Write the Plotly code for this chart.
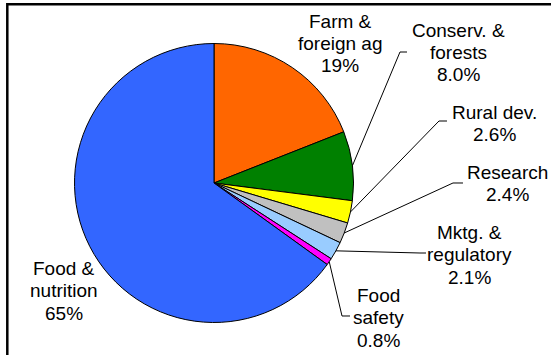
import math
import plotly.graph_objects as go

# Shares of spending by mission area (percent), clockwise from 12 o'clock
categories = ["Farm &\nforeign ag", "Conserv. &\nforests", "Rural dev.", "Research",
              "Mktg. &\nregulatory", "Food\nsafety", "Food &\nnutrition"]
shares = [19, 8.0, 2.6, 2.4, 2.1, 0.8, 65]
colors = ["#FF6600", "#008000", "#FFFF00", "#C0C0C0", "#99CCFF", "#FF00FF", "#3366FF"]

W, H = 551, 355
CX, CY, R = 214, 183, 139.5          # pie centre and radius in pixels
FONT = "Liberation Sans, Arial, sans-serif"
FS = 19
LINE_H = 22.5

# label block centre x and first-line centre y (pixels)
label_pos = {
    "Farm &\nforeign ag": (340, 21),
    "Conserv. &\nforests": (458, 30),
    "Rural dev.": (494, 112),
    "Research": (507, 172),
    "Mktg. &\nregulatory": (469, 232),
    "Food\nsafety": (378, 295),
    "Food &\nnutrition": (64, 268),
}
# leader line elbow and end points (pixels)
leaders = {
    "Conserv. &\nforests": [(400, 52), (407, 52)],
    "Rural dev.": [(439, 121), (447, 121)],
    "Research": [(453, 183), (463, 183)],
    "Mktg. &\nregulatory": [(420, 253), (426, 253)],
    "Food\nsafety": [(342, 316), (350, 316)],
}


def px(x):
    return x / W


def py(y):
    return 1 - y / H


def pct(v):
    return f"{v:.0f}%" if v >= 10 else f"{v:.1f}%"


fig = go.Figure(go.Pie(
    labels=[c.replace("\n", " ") for c in categories],
    values=shares,
    sort=False,
    direction="clockwise",
    rotation=0,
    marker=dict(colors=colors, line=dict(color="#000000", width=1)),
    textinfo="none",
    hoverinfo="label+percent",
    showlegend=False,
    domain=dict(x=[px(CX - R), px(CX + R)], y=[py(CY + R), py(CY - R)]),
))

annotations = []
shapes = []
total = sum(shares)
cum = 0.0
for cat, v in zip(categories, shares):
    mid = (cum + v / 2) / total * 2 * math.pi
    cum += v
    lines = cat.split("\n") + [pct(v)]
    lx, ly = label_pos[cat]
    for i, t in enumerate(lines):
        annotations.append(dict(
            x=px(lx), y=py(ly + i * LINE_H), xref="paper", yref="paper",
            text=t, showarrow=False, xanchor="center", yanchor="middle",
            font=dict(family=FONT, size=FS, color="#000000"),
        ))
    if cat in leaders:
        sx = CX + R * math.sin(mid)
        sy = CY - R * math.cos(mid)
        pts = [(sx, sy)] + leaders[cat]
        path = "M " + " L ".join(f"{px(x):.5f},{py(y):.5f}" for x, y in pts)
        shapes.append(dict(type="path", path=path, xref="paper", yref="paper",
                           line=dict(color="#000000", width=1)))

# outer frame
shapes.append(dict(type="rect", xref="paper", yref="paper",
                   x0=px(7.3), y0=-0.1, x1=1.1, y1=py(4.3),
                   line=dict(color="#000000", width=2.5)))

fig.update_layout(
    width=W, height=H,
    margin=dict(l=0, r=0, t=0, b=0),
    paper_bgcolor="#FFFFFF",
    plot_bgcolor="#FFFFFF",
    annotations=annotations,
    shapes=shapes,
)

fig.write_html("out.html")
